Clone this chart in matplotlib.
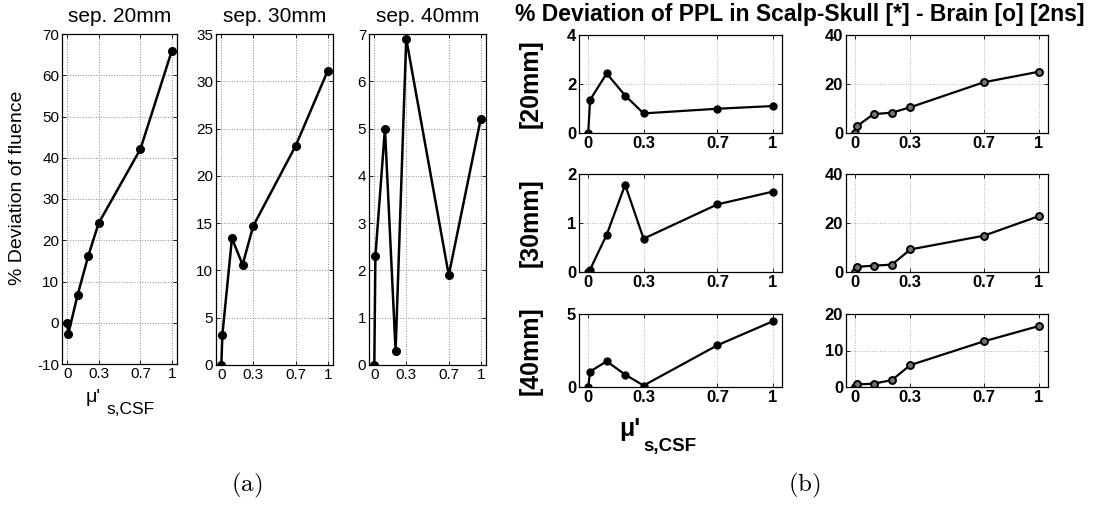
import matplotlib
matplotlib.use('Agg')
import matplotlib.pyplot as plt

plt.rcParams['font.family'] = ['Liberation Sans', 'DejaVu Sans']

# mu'_s,CSF values on the x axis
mu_csf = [0.0, 0.01, 0.1, 0.2, 0.3, 0.7, 1.0]
mu_ticks = [0, 0.3, 0.7, 1]
mu_ticklabels = ['0', '0.3', '0.7', '1']

# (a) % deviation of fluence
sep_titles = ['sep. 20mm', 'sep. 30mm', 'sep. 40mm']
fluence_20 = [0, -2.7, 6.8, 16.1, 24.1, 42.1, 65.9]
fluence_30 = [0, 3.2, 13.4, 10.6, 14.7, 23.2, 31.1]
fluence_40 = [0, 2.3, 5.0, 0.3, 6.9, 1.9, 5.2]
fluence_yticks = [list(range(-10, 71, 10)), list(range(0, 36, 5)), list(range(0, 8))]

# (b) % deviation of PPL, scalp-skull [*] and brain [o]
row_labels = ['[20mm]', '[30mm]', '[40mm]']
skull_20 = [0, 1.35, 2.43, 1.53, 0.8, 0.99, 1.1]
skull_30 = [0, 0.05, 0.76, 1.78, 0.68, 1.38, 1.64]
skull_40 = [0, 1.06, 1.76, 0.85, 0.1, 2.86, 4.5]
brain_20 = [0, 2.8, 7.7, 8.3, 10.5, 20.7, 25.0]
brain_30 = [0, 2.1, 2.6, 3.0, 9.2, 14.8, 22.8]
brain_40 = [0, 0.7, 0.9, 1.9, 6.0, 12.5, 16.7]
skull_yticks = [[0, 2, 4], [0, 1, 2], [0, 5]]
brain_yticks = [[0, 20, 40], [0, 20, 40], [0, 10, 20]]

W, H = 1099, 508
fig = plt.figure(figsize=(W / 100, H / 100), dpi=100)


def px_ax(l, t, r, b):
    return fig.add_axes([l / W, 1 - b / H, (r - l) / W, (b - t) / H])


def style(ax, yt, bold, size, gridcol):
    ax.set_xlim(-0.05, 1.05)
    ax.set_ylim(yt[0], yt[-1])
    ax.set_xticks(mu_ticks)
    ax.set_xticklabels(mu_ticklabels)
    ax.set_yticks(yt)
    ax.set_yticklabels([str(v) for v in yt])
    ax.tick_params(direction='in', length=3, width=0.6, top=True, right=True,
                   labelsize=size, pad=2)
    for lab in ax.get_xticklabels() + ax.get_yticklabels():
        if bold:
            lab.set_fontweight('bold')
    ax.grid(True, linestyle=':', color=gridcol, linewidth=0.7)
    for s in ax.spines.values():
        s.set_linewidth(0.9)


# ---- panel (a)
a_boxes = [(62, 34, 177, 364), (216, 34, 333, 365), (369, 34, 486, 365)]
fluence = [fluence_20, fluence_30, fluence_40]
for i in range(3):
    ax = px_ax(*a_boxes[i])
    ax.plot(mu_csf, fluence[i], '-o', color='black', lw=1.8, ms=5.5)
    style(ax, fluence_yticks[i], False, 11, '0.55')
    l, t, r, b = a_boxes[i]
    fig.text((l + r) / 2 / W, 1 - 16 / H, sep_titles[i], ha='center', va='center', fontsize=15)

fig.text(18 / W, 1 - 188 / H, '% Deviation of fluence', rotation=90, ha='center', va='center', fontsize=14)
fig.text(93 / W, 1 - 398 / H, "μ'", ha='center', va='center', fontsize=14)
fig.text(106 / W, 1 - 409 / H, 's,CSF', ha='left', va='center', fontsize=12.5)
fig.text(247 / W, 1 - 485 / H, r'$\mathrm{(a)}$', ha='center', va='center', fontsize=18,
         math_fontfamily='cm')

# ---- panel (b)
rows = [(35, 133), (174, 272), (314, 387)]
skull = [skull_20, skull_30, skull_40]
brain = [brain_20, brain_30, brain_40]
for i in range(3):
    t, b = rows[i]
    ax = px_ax(579, t, 782, b)
    ax.plot(mu_csf, skull[i], '-o', color='black', lw=1.6, ms=5)
    style(ax, skull_yticks[i], True, 12, '0.7')
    fig.text(531 / W, 1 - (t + b) / 2 / H, row_labels[i], rotation=90, ha='center', va='center',
             fontsize=18, fontweight='bold')

    ax = px_ax(846, t, 1048, b)
    ax.plot(mu_csf, brain[i], '-o', color='black', lw=1.6, ms=5, mfc='0.45', mec='black', mew=1.4)
    style(ax, brain_yticks[i], True, 12, '0.7')

fig.text(800 / W, 1 - 15 / H, '% Deviation of PPL in Scalp-Skull [*] - Brain [o] [2ns]',
         ha='center', va='center', fontsize=16.5, fontweight='bold')
fig.text(630 / W, 1 - 429 / H, "μ'", ha='center', va='center', fontsize=18, fontweight='bold')
fig.text(643 / W, 1 - 446 / H, 's,CSF', ha='left', va='center', fontsize=13.5, fontweight='bold')
fig.text(804 / W, 1 - 485 / H, r'$\mathrm{(b)}$', ha='center', va='center', fontsize=18,
         math_fontfamily='cm')

fig.savefig('out.png', dpi=100, facecolor='white')
